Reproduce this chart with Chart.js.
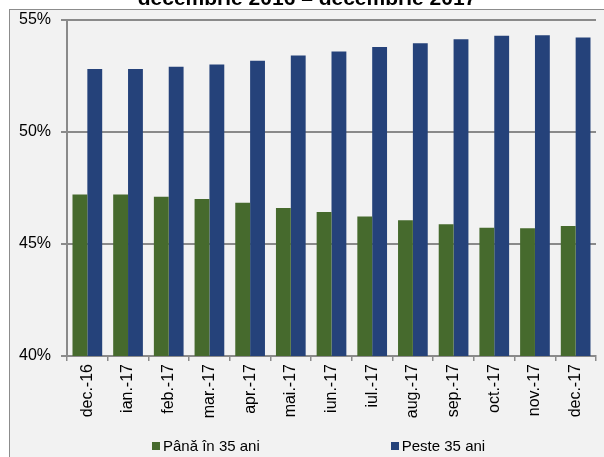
<!DOCTYPE html>
<html>
<head>
<meta charset="utf-8">
<script src="https://cdn.jsdelivr.net/npm/chart.js@4/dist/chart.umd.min.js"></script>
<style>
  html, body { margin: 0; padding: 0; background: #ffffff; }
  #wrap { position: relative; width: 604px; height: 457px; overflow: hidden; }
  #frame { position: absolute; left: 9px; top: 9px; width: 595px; height: 448px; box-sizing: border-box;
           border-left: 1px solid #8c8c8c; border-top: 1px solid #8c8c8c; background: #f2f2f2; }
  #chart { position: absolute; left: 0; top: 0; }
  #title { position: absolute; left: 10px; top: -13px; width: 594px; text-align: center;
           font: bold 21px "Liberation Sans", Arial, sans-serif; line-height: 21px; color: #000; white-space: nowrap; }
  #legend { position: absolute; left: 152px; top: 437px; display: flex; gap: 131px;
            font: 15px "Liberation Sans", Arial, sans-serif; line-height: 18px; color: #000; }
  .item { display: flex; align-items: center; white-space: nowrap; }
  .sw { width: 8px; height: 8px; margin-right: 3px; display: inline-block; }
</style>
</head>
<body>
<div id="wrap">
  <div id="frame"></div>
  <canvas id="chart" width="604" height="457"></canvas>
  <div id="title">decembrie 2016 – decembrie 2017</div>
  <div id="legend"></div>
</div>
<script>
const categories = ['dec.-16','ian.-17','feb.-17','mar.-17','apr.-17','mai.-17','iun.-17','iul.-17','aug.-17','sep.-17','oct.-17','nov.-17','dec.-17'];
const seriesNames = ['Până în 35 ani', 'Peste 35 ani'];
const panaIn35 = [47.2, 47.2, 47.1, 47.0, 46.83, 46.6, 46.42, 46.22, 46.05, 45.88, 45.72, 45.7, 45.8];
const peste35 = [52.8, 52.8, 52.9, 53.0, 53.17, 53.4, 53.58, 53.78, 53.95, 54.12, 54.28, 54.3, 54.2];
const yTicks = [40, 45, 50, 55];

const FONT = '"Liberation Sans", Arial, sans-serif';
const GREEN = '#466a2d';
const BLUE = '#25427a';
const GRID = '#8a8a8a';

const chart = new Chart(document.getElementById('chart'), {
  type: 'bar',
  data: {
    labels: categories,
    datasets: [
      { label: seriesNames[0], data: panaIn35, backgroundColor: GREEN, borderWidth: 0,
        categoryPercentage: 0.73, barPercentage: 1.0 },
      { label: seriesNames[1], data: peste35, backgroundColor: BLUE, borderWidth: 0,
        categoryPercentage: 0.73, barPercentage: 1.0 }
    ]
  },
  options: {
    responsive: false,
    animation: false,
    devicePixelRatio: 1,
    layout: { padding: { top: 15, right: 8, left: 0, bottom: 0 } },
    plugins: { legend: { display: false }, title: { display: false }, tooltip: { enabled: false } },
    scales: {
      x: {
        grid: { display: true, drawOnChartArea: false, drawTicks: true, tickLength: 5, color: GRID, lineWidth: 1.5, offset: true },
        border: { color: GRID, width: 2 },
        ticks: { minRotation: 90, maxRotation: 90, autoSkip: false, padding: 3, color: '#000', font: { family: FONT, size: 16 } },
        afterFit: s => { s.height = 101; }
      },
      y: {
        min: 40, max: 55,
        afterBuildTicks: s => { s.ticks = yTicks.map(v => ({ value: v })); },
        grid: { color: GRID, lineWidth: 2, tickLength: 6 },
        border: { color: GRID, width: 2 },
        ticks: { padding: 10, color: '#000', font: { family: FONT, size: 16 }, callback: v => v + '%' },
        afterFit: s => { s.width = 67; }
      }
    }
  }
});

// HTML legend built from the chart's datasets
const lg = document.getElementById('legend');
chart.data.datasets.forEach(ds => {
  const it = document.createElement('div');
  it.className = 'item';
  const sw = document.createElement('span');
  sw.className = 'sw';
  sw.style.background = ds.backgroundColor;
  const tx = document.createElement('span');
  tx.textContent = ds.label;
  it.appendChild(sw); it.appendChild(tx);
  lg.appendChild(it);
});
</script>
</body>
</html>
